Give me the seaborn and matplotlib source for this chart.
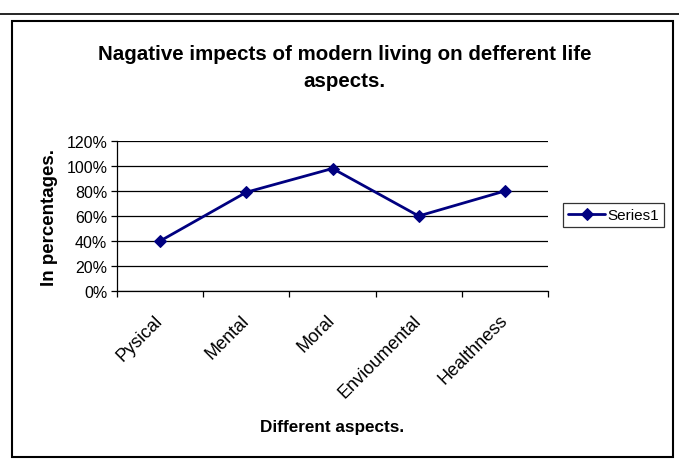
import seaborn as sns
import matplotlib.pyplot as plt
import pandas as pd
from matplotlib.patches import Rectangle
from matplotlib.ticker import PercentFormatter, FixedLocator

aspects = ["Pysical", "Mental", "Moral", "Envioumental", "Healthness"]
values = [0.40, 0.79, 0.98, 0.60, 0.80]
y_ticks = [0, 0.2, 0.4, 0.6, 0.8, 1.0, 1.2]

df = pd.DataFrame({"aspect": aspects, "value": values})

sns.set_theme(style="white")
plt.rcParams["font.family"] = ["Liberation Sans", "DejaVu Sans"]
plt.rcParams["text.color"] = "black"
plt.rcParams["axes.labelcolor"] = "black"
plt.rcParams["xtick.color"] = "black"
plt.rcParams["ytick.color"] = "black"

fig = plt.figure(figsize=(6.79, 4.60), dpi=100)
ax = fig.add_axes([117 / 679, 168 / 460, 431 / 679, 150 / 460])

sns.lineplot(data=df, x="aspect", y="value", marker="D", color="#000080",
             linewidth=2, markersize=6, markeredgecolor="#000080",
             label="Series1", ax=ax)

ax.set_ylim(0, 1.2)
ax.set_yticks(y_ticks)
ax.yaxis.set_major_formatter(PercentFormatter(1.0, decimals=0))
ax.grid(axis="y", color="black", linewidth=0.9)
ax.grid(axis="x", visible=False)

ax.set_xlim(-0.5, 4.5)
ax.set_xticks(range(len(aspects)))
ax.set_xticklabels(aspects, rotation=45, ha="right", va="center", rotation_mode="anchor")
ax.xaxis.set_minor_locator(FixedLocator([i - 0.5 for i in range(len(aspects) + 1)]))
ax.tick_params(axis="x", which="major", length=0, pad=19, labelsize=13)
ax.tick_params(axis="x", which="minor", length=4, width=0.9, color="black", direction="out", bottom=True)
ax.tick_params(axis="y", length=4, width=0.9, color="black", direction="out", left=True, labelsize=11.5, pad=3)

for side in ["top", "right"]:
    ax.spines[side].set_visible(False)
for side in ["left", "bottom"]:
    ax.spines[side].set_color("black")
    ax.spines[side].set_linewidth(0.9)

ax.set_xlabel("Different aspects.", fontsize=12.3, fontweight="bold", labelpad=13)
ax.set_ylabel("In percentages.", fontsize=13.5, fontweight="bold", labelpad=6)

leg = ax.legend(loc="center left", bbox_to_anchor=(563 / 679, 244 / 460),
                bbox_transform=fig.transFigure, frameon=True, fancybox=False,
                fontsize=11, handlelength=2.4, borderpad=0.35, handletextpad=0.15,
                borderaxespad=0)
leg.get_frame().set_edgecolor("black")
leg.get_frame().set_linewidth(0.9)

fig.text(0.508, 392 / 460, "Nagative impects of modern living on defferent life\naspects.",
         ha="center", va="center", fontsize=14.8, fontweight="bold", linespacing=1.55)

# chart border and the rule above it
fig.add_artist(Rectangle((12 / 679, 2 / 460), 661 / 679, 436 / 460,
                         transform=fig.transFigure, fill=False,
                         edgecolor="black", linewidth=1.5))
fig.add_artist(plt.Line2D([0, 1], [445 / 460, 445 / 460], transform=fig.transFigure,
                          color="black", linewidth=1.2))

fig.savefig("out.png", dpi=100)
plt.close(fig)
